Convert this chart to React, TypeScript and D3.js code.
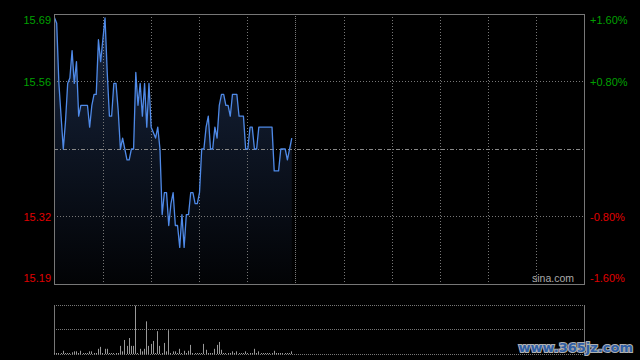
import React, { useEffect } from "react";
import * as d3 from "d3";

const prevClose = 15.44;
const totalMinutes = 241;

const prices = [
  15.68, 15.67, 15.56, 15.5, 15.44, 15.49, 15.56, 15.57, 15.62, 15.56,
  15.6, 15.5, 15.52, 15.52, 15.52, 15.52, 15.48, 15.52, 15.54, 15.54,
  15.64, 15.6, 15.64, 15.68, 15.58, 15.5, 15.5, 15.56, 15.56, 15.51,
  15.44, 15.46, 15.44, 15.42, 15.42, 15.44, 15.44, 15.58, 15.52, 15.56,
  15.5, 15.56, 15.48, 15.56, 15.48, 15.47, 15.46, 15.48, 15.44, 15.32,
  15.36, 15.36, 15.3, 15.34, 15.36, 15.3, 15.3, 15.26, 15.32, 15.26,
  15.32, 15.32, 15.36, 15.36, 15.34, 15.34, 15.36, 15.44, 15.44, 15.48,
  15.5, 15.44, 15.44, 15.48, 15.46, 15.52, 15.54, 15.54, 15.52, 15.52,
  15.5, 15.54, 15.54, 15.54, 15.5, 15.5, 15.5, 15.44, 15.44, 15.48,
  15.48, 15.44, 15.44, 15.48, 15.48, 15.48, 15.48, 15.48, 15.48, 15.48,
  15.4, 15.4, 15.4, 15.44, 15.44, 15.44, 15.42, 15.44, 15.46,
];

const volumes = [
  8, 4, 4, 6, 66, 20, 6, 8, 34, 54,
  54, 8, 66, 6, 6, 8, 54, 54, 6, 8,
  106, 146, 20, 106, 106, 6, 8, 6, 6, 8,
  166, 54, 286, 166, 326, 166, 166, 986, 20, 106,
  54, 106, 666, 166, 206, 266, 20, 466, 166, 20,
  226, 54, 486, 20, 54, 54, 20, 106, 20, 66,
  20, 66, 186, 8, 8, 6, 8, 6, 206, 86,
  8, 6, 8, 106, 186, 246, 86, 8, 6, 8,
  6, 54, 20, 54, 8, 6, 8, 54, 8, 6,
  8, 106, 8, 54, 6, 8, 6, 8, 6, 8,
  66, 8, 6, 8, 6, 8, 6, 8, 54,
];

const pctLevels = [1.6, 0.8, -0.8, -1.6];
const priceLabels = ["15.69", "15.56", "15.32", "15.19"];
const pctLabels = ["+1.60%", "+0.80%", "-0.80%", "-1.60%"];
const gridDivisions = 11;

const L = 54, R = 584, T = 14, B = 284;
const VT = 305, VB = 354;

export default function App() {
  useEffect(() => {
    document.body.style.margin = "0";
    document.body.style.background = "#000";
  }, []);

  const x = d3.scaleLinear().domain([0, totalMinutes]).range([L + 0.5, R]);
  const xg = d3.scaleLinear().domain([0, gridDivisions]).range([L + 1, R + 1]);
  const y = d3.scaleLinear().domain([-1.6, 1.6]).range([B, T]);
  const pct = (p: number) => (p / prevClose - 1) * 100;
  const vy = d3.scaleLinear().domain([0, 1000]).range([VB, VT]);

  const line = d3
    .line<number>()
    .x((_, i) => x(i))
    .y((p) => y(pct(p)));
  const area = d3
    .area<number>()
    .x((_, i) => x(i))
    .y0(B)
    .y1((p) => y(pct(p)));

  const px = (v: number) => Math.floor(v) + 0.5;
  const font = "Liberation Sans, Arial, sans-serif";

  return (
    <svg width={640} height={360} style={{ display: "block", background: "#000" }}>
      <defs>
        <linearGradient id="fillG" gradientUnits="userSpaceOnUse" x1={0} y1={T} x2={0} y2={B}>
          <stop offset="0%" stopColor="#182640" />
          <stop offset="100%" stopColor="#020305" />
        </linearGradient>
      </defs>
      <rect x={0} y={0} width={640} height={360} fill="#000" />

      {/* area */}
      <path d={area(prices) || ""} fill="url(#fillG)" />

      {/* vertical grid */}
      {d3.range(1, gridDivisions).map((k) => (
        <line
          key={"vg" + k}
          x1={px(xg(k))}
          x2={px(xg(k))}
          y1={T}
          y2={B}
          stroke="#777"
          strokeDasharray={k === 5 ? "1,1" : "1,2"}
        />
      ))}
      {/* horizontal grid */}
      {[0.8, -0.8].map((v) => (
        <line key={"hg" + v} x1={L} x2={R} y1={px(y(v))} y2={px(y(v))} stroke="#777" strokeDasharray="1,2" />
      ))}
      <line x1={L} x2={R} y1={px(y(0))} y2={px(y(0))} stroke="#888" strokeDasharray="4,2,1,2" />

      {/* line */}
      <path d={line(prices) || ""} fill="none" stroke="#4f8ae8" strokeWidth={1.3} strokeLinejoin="round" />

      {/* frame */}
      <rect x={L + 0.5} y={T + 0.5} width={R - L} height={B - T} fill="none" stroke="#777" />

      {/* left labels */}
      {pctLevels.map((v, i) => {
        let cy = y(v);
        if (i === 0) cy += 6;
        if (i === pctLevels.length - 1) cy -= 6;
        return (
          <text
            key={"pl" + i}
            x={51}
            y={cy + 4}
            textAnchor="end"
            fontFamily={font}
            fontSize={11}
            fill={v > 0 ? "#00a000" : "#e00000"}
          >
            {priceLabels[i]}
          </text>
        );
      })}
      {pctLevels.map((v, i) => {
        let cy = y(v);
        if (i === 0) cy += 6;
        if (i === pctLevels.length - 1) cy -= 6;
        return (
          <text
            key={"rl" + i}
            x={590}
            y={cy + 4}
            textAnchor="start"
            fontFamily={font}
            fontSize={11}
            fill={v > 0 ? "#00a000" : "#e00000"}
          >
            {pctLabels[i]}
          </text>
        );
      })}

      <text x={574} y={282} textAnchor="end" fontFamily={font} fontSize={10.5} fill="#aaa">
        sina.com
      </text>

      {/* volume panel */}
      {[VT, (VT + VB) / 2, VB].map((v, i) => (
        <line key={"vh" + i} x1={L} x2={R} y1={px(v)} y2={px(v)} stroke="#777" strokeDasharray="1,1" />
      ))}
      <line x1={L + 0.5} x2={L + 0.5} y1={VT} y2={VB} stroke="#777" />
      <line x1={R + 0.5} x2={R + 0.5} y1={VT} y2={VB} stroke="#777" />
      {volumes.map((v, i) => (
        <line
          key={"vb" + i}
          x1={px(x(i))}
          x2={px(x(i))}
          y1={Math.min(vy(v), VB - 1)}
          y2={VB}
          stroke="#999"
          strokeWidth={1}
        />
      ))}

      {/* watermark */}
      <text
        x={633}
        y={352}
        textAnchor="end"
        fontFamily="DejaVu Sans, sans-serif"
        fontWeight="bold"
        fontSize={13}
        fill="#2f5fa6"
        stroke="#b0b0b0"
        strokeWidth={2}
        paintOrder="stroke"
      >
        www.365jz.com
      </text>
    </svg>
  );
}
